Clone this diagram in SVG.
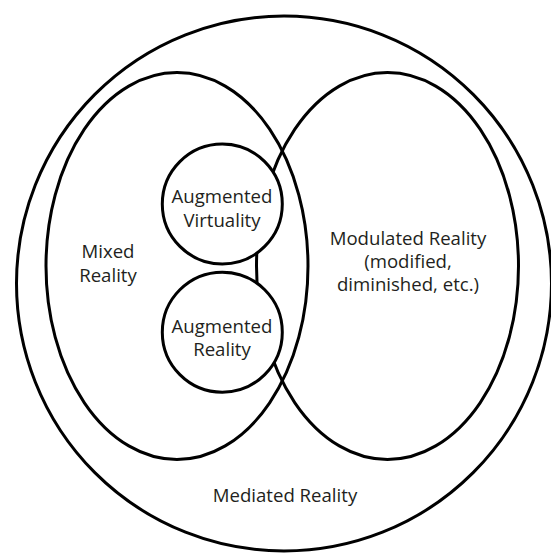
<svg xmlns="http://www.w3.org/2000/svg" width="551" height="554" viewBox="0 0 551 554">
<style>
.shape{fill:none;stroke:#000;stroke-width:3}
.node{fill:#fff;stroke:#000;stroke-width:3}
text{font-family:"Open Sans","Noto Sans",sans-serif;font-size:18.6px;fill:#231f20;text-anchor:middle}
</style>
<rect width="551" height="554" fill="#fff"/>
<g id="mediated-reality">
<circle class="shape" cx="284" cy="283.5" r="267.5"/>
<text x="285" y="501.5">Mediated Reality</text>
</g>
<g id="mixed-reality">
<ellipse class="shape" cx="177" cy="266" rx="131" ry="193.5"/>
<text x="108" y="257.5">Mixed</text>
<text x="108" y="281.5">Reality</text>
</g>
<g id="modulated-reality">
<ellipse class="shape" cx="387.5" cy="266" rx="131" ry="193.5"/>
<text x="408" y="244.5">Modulated Reality</text>
<text x="408" y="267.5">(modified,</text>
<text x="408" y="291">diminished, etc.)</text>
</g>
<g id="augmented-virtuality">
<circle class="node" cx="222.3" cy="204" r="60"/>
<text x="222" y="203.3">Augmented</text>
<text x="222" y="227.3">Virtuality</text>
</g>
<g id="augmented-reality">
<circle class="node" cx="222.3" cy="332.2" r="60"/>
<text x="222" y="332.7">Augmented</text>
<text x="222" y="356.3">Reality</text>
</g>
<g id="connectors"></g>
</svg>
